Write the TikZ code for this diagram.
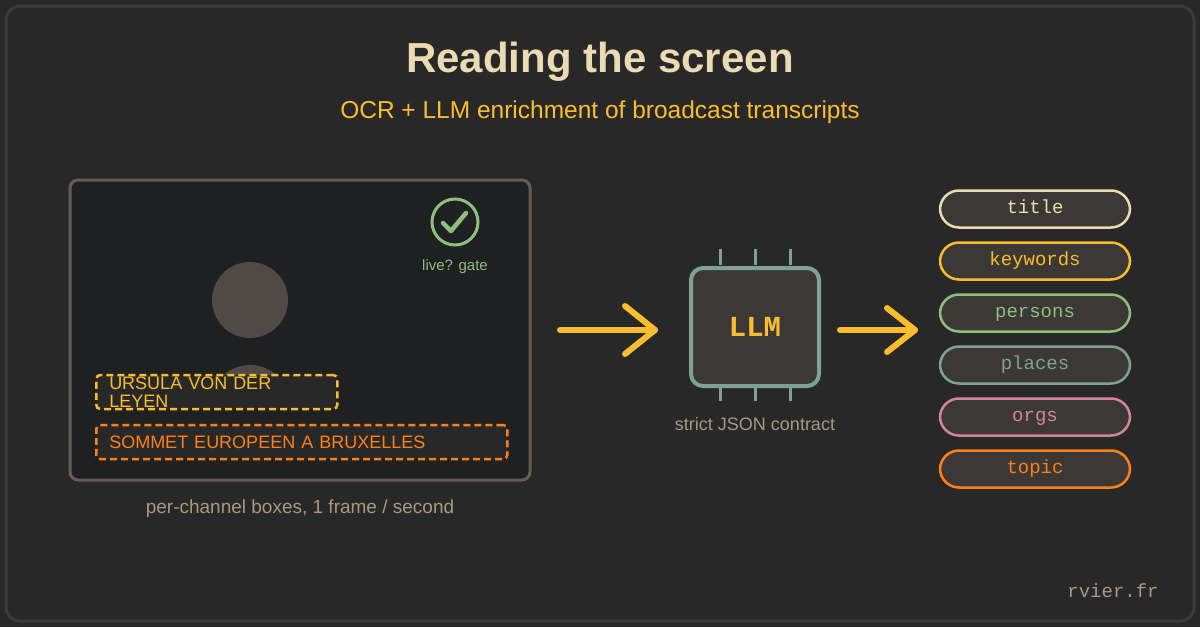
\documentclass[tikz,border=0pt]{standalone}
\usepackage{fontspec}
\setmainfont{Liberation Sans}
\newfontfamily\monof{Liberation Mono}
\begin{document}
\definecolor{bg}{HTML}{282828}
\definecolor{frm}{HTML}{3A3A3A}
\definecolor{cream}{HTML}{EBDBB2}
\definecolor{yel}{HTML}{FABD2F}
\definecolor{grn}{HTML}{8EC07C}
\definecolor{aqua}{HTML}{7FA392}
\definecolor{pink}{HTML}{D3869B}
\definecolor{ora}{HTML}{FE8019}
\definecolor{muted}{HTML}{A89984}
\definecolor{scr}{HTML}{1E2021}
\definecolor{scredge}{HTML}{665C54}
\definecolor{face}{HTML}{504945}
\definecolor{pillbg}{HTML}{3C3836}
\begin{tikzpicture}[x=1pt,y=-1pt,
  pill/.style={draw=#1,line width=2.5pt,fill=pillbg,rounded corners=19pt,minimum width=190pt,minimum height=37pt,text=#1,font=\monof\fontsize{19}{19}\selectfont,inner sep=0pt,text height=12pt,text depth=3pt},
  arr/.style={yel,line width=6pt,line cap=round,line join=round},
  ocr/.style={draw=#1,dashed,dash pattern=on 7pt off 4pt,line width=2.5pt,rounded corners=4pt,fill=bg,text=#1,font=\fontsize{18}{18}\selectfont,anchor=west,inner xsep=13pt,inner ysep=0pt,minimum height=34pt,align=left},
  capt/.style={text=muted,font=\fontsize{19}{19}\selectfont}]
\useasboundingbox (0,0) rectangle (1200,627);
\fill[bg] (0,0) rectangle (1200,627);
\draw[frm,line width=3pt,rounded corners=14pt] (6,6) rectangle (1194,621);
\node[text=cream,font=\bfseries\fontsize{42}{42}\selectfont] (title) at (600,62) {Reading the screen};
\node[text=yel,font=\fontsize{24.5}{24.5}\selectfont] (sub) at (600,112) {OCR + LLM enrichment of broadcast transcripts};
% screen
\draw[scredge,fill=scr,line width=3pt,rounded corners=8pt] (70,180) rectangle (530,480);
\node[circle,fill=face,minimum size=76pt,inner sep=0pt] (head) at (250,300) {};
\begin{scope}
\clip (70,180) rectangle (530,380);
\fill[face] (250,405) circle (40);
\end{scope}
\node[circle,draw=grn,line width=3pt,minimum size=46pt,inner sep=0pt] (chk) at (455,222) {};
\draw[grn,line width=4.5pt,line cap=round,line join=round] (443,223) -- (451,231) -- (466,213);
\node[text=grn,font=\fontsize{15}{15}\selectfont] (gate) at (455,267) {live? gate};
\node[ocr=yel,text width=215pt] (n1) at (95,392) {URSULA VON DER LEYEN};
\node[ocr=ora,text width=385pt] (n2) at (95,442) {SOMMET EUROPEEN A BRUXELLES};
\node[capt] (c1) at (300,509) {per-channel boxes, 1 frame / second};
% arrows
\coordinate (a1s) at (560,330); \coordinate (a1e) at (655,330);
\draw[arr] (a1s) -- (a1e);
\draw[arr] (625,306) -- (a1e) -- (625,354);
% chip
\foreach \x in {720,755,790}{\draw[aqua,line width=3pt] (\x,249) -- (\x,265); \draw[aqua,line width=3pt] (\x,385) -- (\x,401);}
\node[draw=aqua,line width=4pt,fill=pillbg,rounded corners=12pt,minimum width=128pt,minimum height=118pt,text=yel,font=\monof\bfseries\fontsize{29}{29}\selectfont] (llm) at (755,327) {LLM};
\node[capt,font=\fontsize{18}{18}\selectfont] (c2) at (755,424) {strict JSON contract};
\coordinate (a2s) at (840,330); \coordinate (a2e) at (915,330);
\draw[arr] (a2s) -- (a2e);
\draw[arr] (887,308) -- (a2e) -- (887,352);
% pills
\node[pill=cream] (p1) at (1035,209) {title};
\node[pill=yel] (p2) at (1035,261) {keywords};
\node[pill=grn] (p3) at (1035,313) {persons};
\node[pill=aqua] (p4) at (1035,365) {places};
\node[pill=pink] (p5) at (1035,417) {orgs};
\node[pill=ora] (p6) at (1035,469) {topic};
\node[text=muted,font=\monof\fontsize{19}{19}\selectfont] (brand) at (1113,591) {rvier.fr};
\end{tikzpicture}
\end{document}
